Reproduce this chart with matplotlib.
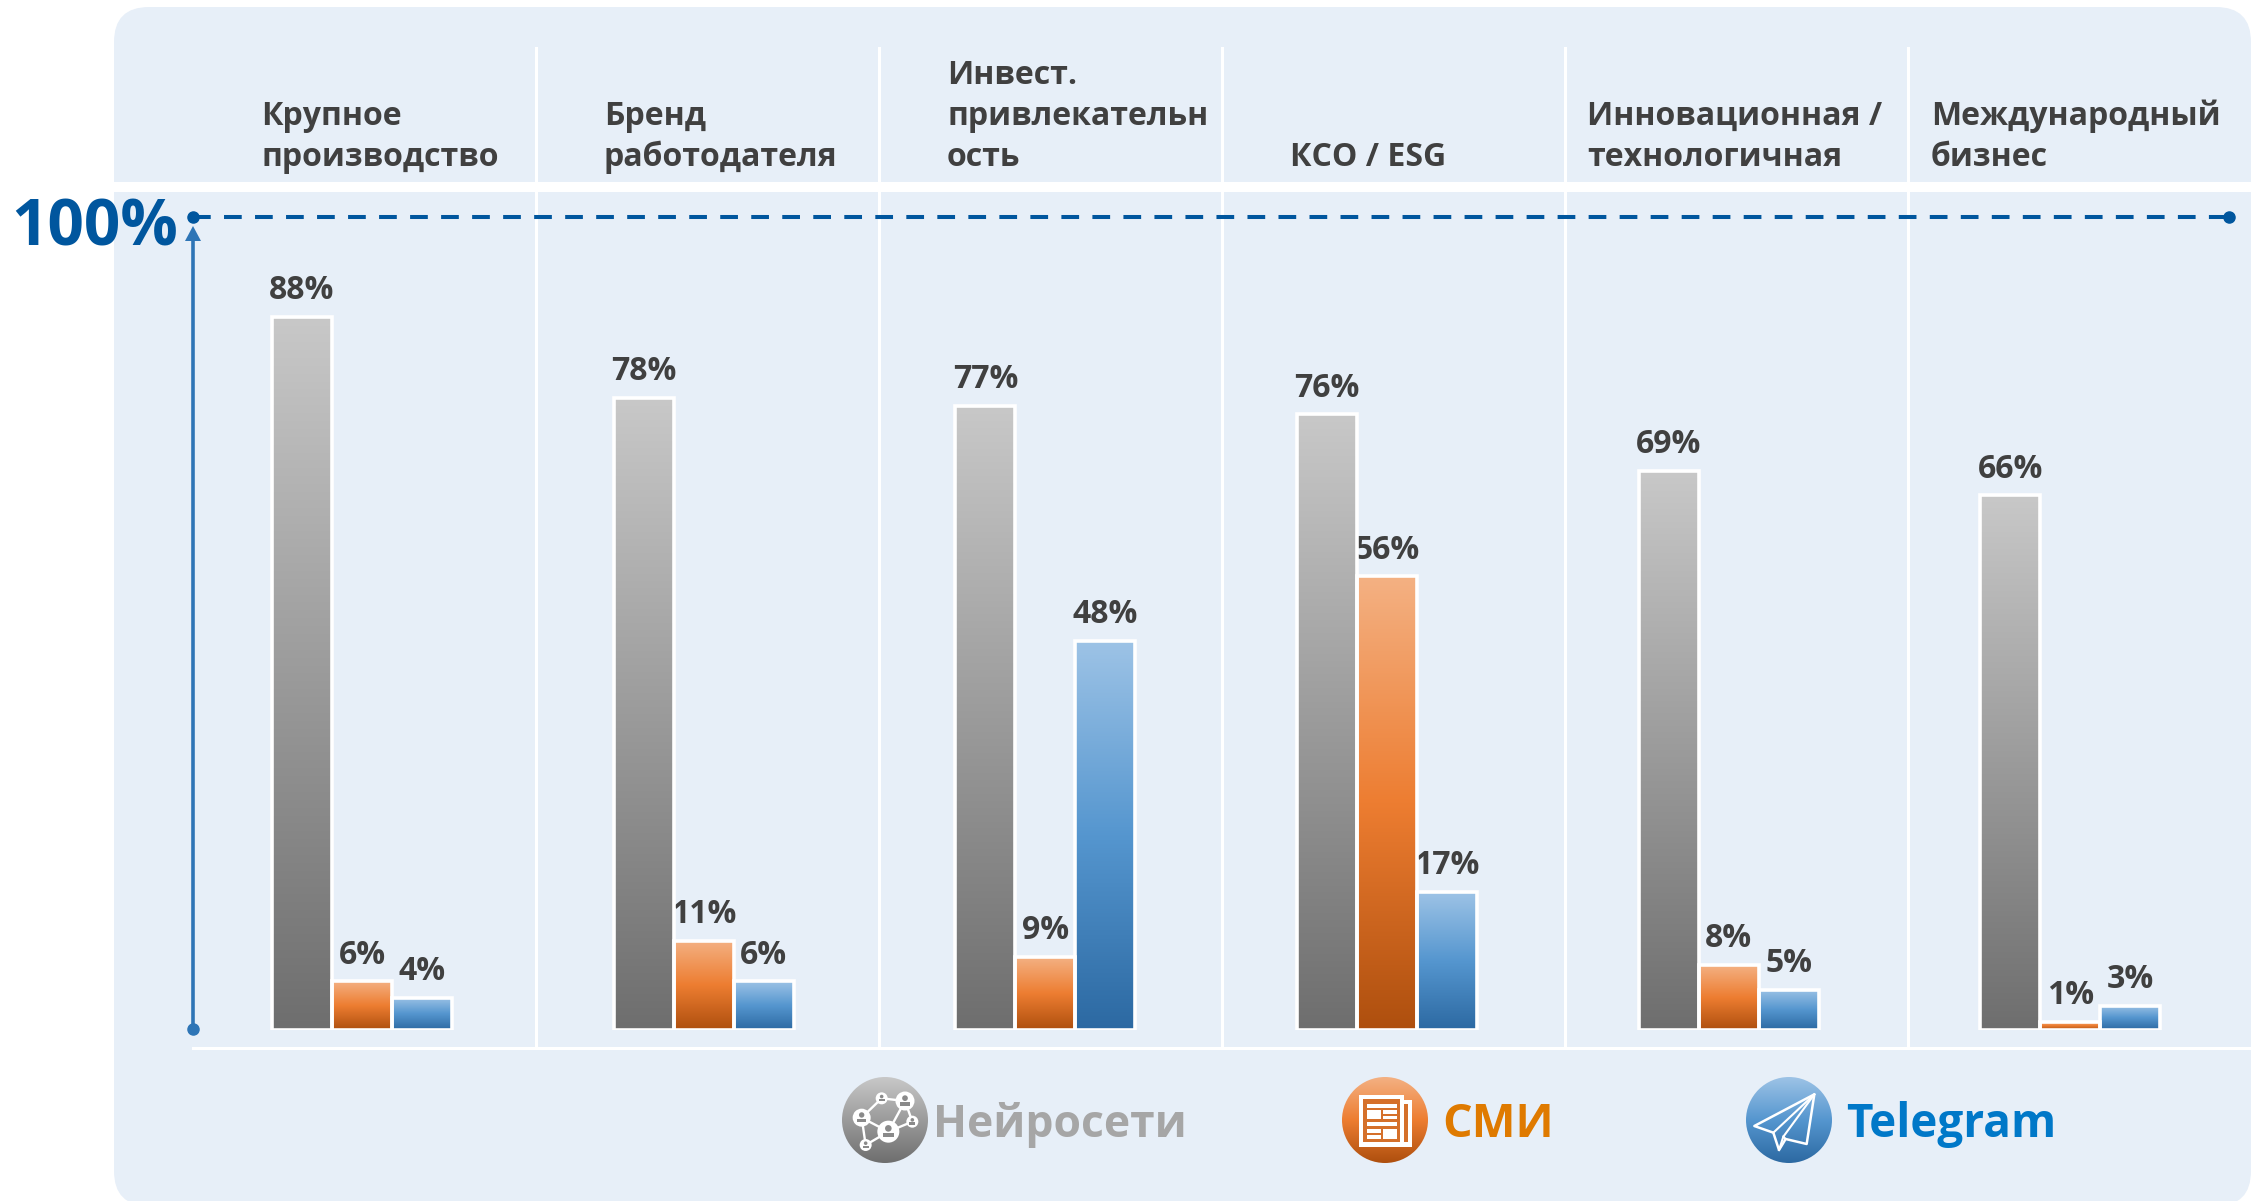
import numpy as np
import matplotlib.pyplot as plt
from matplotlib.colors import LinearSegmentedColormap
from matplotlib.patches import FancyBboxPatch, Circle, Polygon, Rectangle

plt.rcParams['font.family'] = ['Open Sans', 'DejaVu Sans']

W, H = 2255, 1201

categories = [
    ["Крупное", "производство"],
    ["Бренд", "работодателя"],
    ["Инвест.", "привлекательн", "ость"],
    ["КСО / ESG"],
    ["Инновационная /", "технологичная"],
    ["Международный", "бизнес"],
]
neuro = [88, 78, 77, 76, 69, 66]
smi = [6, 11, 9, 56, 8, 1]
telegram = [4, 6, 48, 17, 5, 3]

gray_cmap = LinearSegmentedColormap.from_list("g", ["#C8C8C8", "#6E6E6E"])
orange_cmap = LinearSegmentedColormap.from_list("o", ["#F4B183", "#ED7D31", "#AE4F0E"])
blue_cmap = LinearSegmentedColormap.from_list("b", ["#9DC3E6", "#5596CF", "#2C69A2"])
grad = np.linspace(0, 1, 256).reshape(-1, 1)

fig = plt.figure(figsize=(W / 100, H / 100), dpi=100)

# overlay in pixels for panel, lines, headers and legend
bg = fig.add_axes([0, 0, 1, 1])
bg.set_xlim(0, W)
bg.set_ylim(H, 0)
bg.axis("off")

r = 35
bg.add_patch(FancyBboxPatch((114 + r, 7 + r), 2137 - 2 * r, 1199 - 2 * r,
                            boxstyle=f"round,pad={r},rounding_size={r}", fc="#E7EFF8", ec="none"))
bg.add_patch(Rectangle((0, 182), W, 10, fc="white", ec="none"))
for x in [536, 879, 1222, 1565, 1908]:
    bg.plot([x, x], [48, 1048], color="white", lw=2.2, zorder=1)
bg.plot([193, 2250], [1048, 1048], color="white", lw=2.2, zorder=1)

# 100% line and arrow
bg.plot([193, 2229], [217, 217], color="#00569E", lw=2.9, dashes=(4.4, 3.3), zorder=3)
bg.plot([193, 2229], [217, 217], "o", color="#00569E", ms=8, zorder=3)
bg.plot([193, 193], [240, 1029], color="#2E75B6", lw=2.6, zorder=3)
bg.add_patch(Polygon([[193, 226], [185, 241], [201, 241]], fc="#2E75B6", ec="none", zorder=3))
bg.plot([193], [1029], "o", color="#2E75B6", ms=8, zorder=3)
bg.text(11, 245, "100%", fontsize=46, fontweight="bold", color="#00569E", ha="left", va="baseline")

# headers
header_x = [261, 604, 947, 1290, 1587, 1931]
for x, lines in zip(header_x, categories):
    for k, line in enumerate(reversed(lines)):
        bg.text(x, 166 - 41 * k, line, fontsize=23, fontweight="bold", color="#404040",
                ha="left", va="baseline")

# bars on their own axes: 0..100 on y, group index on x
x0, x1 = 193, 2250
y_zero, px_per_pct = 1030, 8.1
ax = fig.add_axes([x0 / W, 1 - y_zero / H, (x1 - x0) / W, 100 * px_per_pct / H])
ax.patch.set_alpha(0)
group_px = 341.7
step = 60 / group_px
series = [(neuro, gray_cmap, -step), (smi, orange_cmap, 0), (telegram, blue_cmap, step)]
for values, cmap, off in series:
    xs = np.arange(len(values)) + off
    bars = ax.bar(xs, values, width=step, color="none", edgecolor="white", linewidth=2.6, zorder=4)
    for bar, v in zip(bars, values):
        left = bar.get_x()
        ax.imshow(grad, cmap=cmap, aspect="auto", zorder=3, vmin=0, vmax=1,
                  extent=[left, left + step, 0, v], interpolation="bilinear")
        ax.text(left + step / 2, v + 2.2, f"{v}%", fontsize=23, fontweight="bold", color="#404040",
                ha="center", va="baseline")
ax.set_xlim((x0 - 362) / group_px, (x1 - 362) / group_px)
ax.set_ylim(0, 100)
ax.axis("off")


def disc(cx, cy, cmap, r=43):
    im = bg.imshow(grad, cmap=cmap, aspect="auto", extent=[cx - r, cx + r, cy + r, cy - r], zorder=2,
                   vmin=0, vmax=1)
    c = Circle((cx, cy), r, transform=bg.transData, fc="none", ec="none")
    bg.add_patch(c)
    im.set_clip_path(c)


disc(885, 1120, gray_cmap)
disc(1385, 1120, orange_cmap)
disc(1789, 1120, blue_cmap)
bg.set_xlim(0, W)
bg.set_ylim(H, 0)


def px(ox, pts):
    return [(ox + a / 3, 1065 + b / 3) for a, b in pts]


# network icon
nodes = px(830, [(95, 158), (175, 200), (225, 108), (155, 100), (247, 170), (107, 240)])
sizes = [9, 11, 9.5, 6, 6, 6]
links = [(0, 3), (3, 2), (0, 1), (0, 5), (5, 1), (1, 2), (1, 4), (4, 2)]
for a, b in links:
    bg.plot([nodes[a][0], nodes[b][0]], [nodes[a][1], nodes[b][1]], color="white", lw=1.7, zorder=3)
for (nx, ny), nr in zip(nodes, sizes):
    bg.add_patch(Circle((nx, ny), nr, fc="white", ec="none", zorder=4))
    bg.add_patch(Circle((nx, ny - nr * 0.3), nr * 0.3, fc="#8A8A8A", ec="none", zorder=5))
    bg.add_patch(Rectangle((nx - nr * 0.5, ny + nr * 0.1), nr, nr * 0.4, fc="#8A8A8A", ec="none", zorder=5))

# newspaper icon
ox = 1330
bg.add_patch(Polygon(px(ox, [(88, 90), (222, 90), (222, 105), (245, 105), (245, 245), (88, 245)]),
                     fc="white", ec="none", zorder=3))
bg.add_patch(Polygon(px(ox, [(100, 101), (211, 101), (211, 232), (100, 232)]), fc="#D5702A", ec="none", zorder=4))
bg.add_patch(Polygon(px(ox, [(222, 117), (234, 117), (234, 232), (222, 232)]), fc="#D5702A", ec="none", zorder=4))
for a, b, c, d in [(110, 117, 200, 128), (110, 136, 152, 163), (160, 136, 200, 146), (160, 153, 200, 163),
                   (110, 171, 200, 182), (110, 191, 152, 203), (110, 210, 152, 222), (160, 191, 200, 222)]:
    bg.add_patch(Polygon(px(ox, [(a, b), (c, b), (c, d), (a, d)]), fc="white", ec="none", zorder=5))

# paper plane icon
ox = 1735
bg.add_patch(Polygon(px(ox, [(238, 88), (58, 183), (115, 203), (132, 255), (152, 222), (215, 237)]),
                     fc="none", ec="white", lw=1.8, zorder=3, joinstyle="round"))
for seg in [[(238, 88), (115, 203)], [(238, 88), (145, 215), (152, 222)], [(145, 215), (132, 255)]]:
    pts = px(ox, seg)
    bg.plot([p[0] for p in pts], [p[1] for p in pts], color="white", lw=1.5, zorder=3)

# legend labels
bg.text(933, 1137, "Нейросети", fontsize=32, fontweight="bold", color="#A6A6A6", va="baseline")
bg.text(1442, 1137, "СМИ", fontsize=33.5, fontweight="bold", color="#DF7A00", va="baseline")
bg.text(1846, 1137, "Telegram", fontsize=33, fontweight="bold", color="#0078C8", va="baseline")

fig.savefig("out.png", dpi=100)
